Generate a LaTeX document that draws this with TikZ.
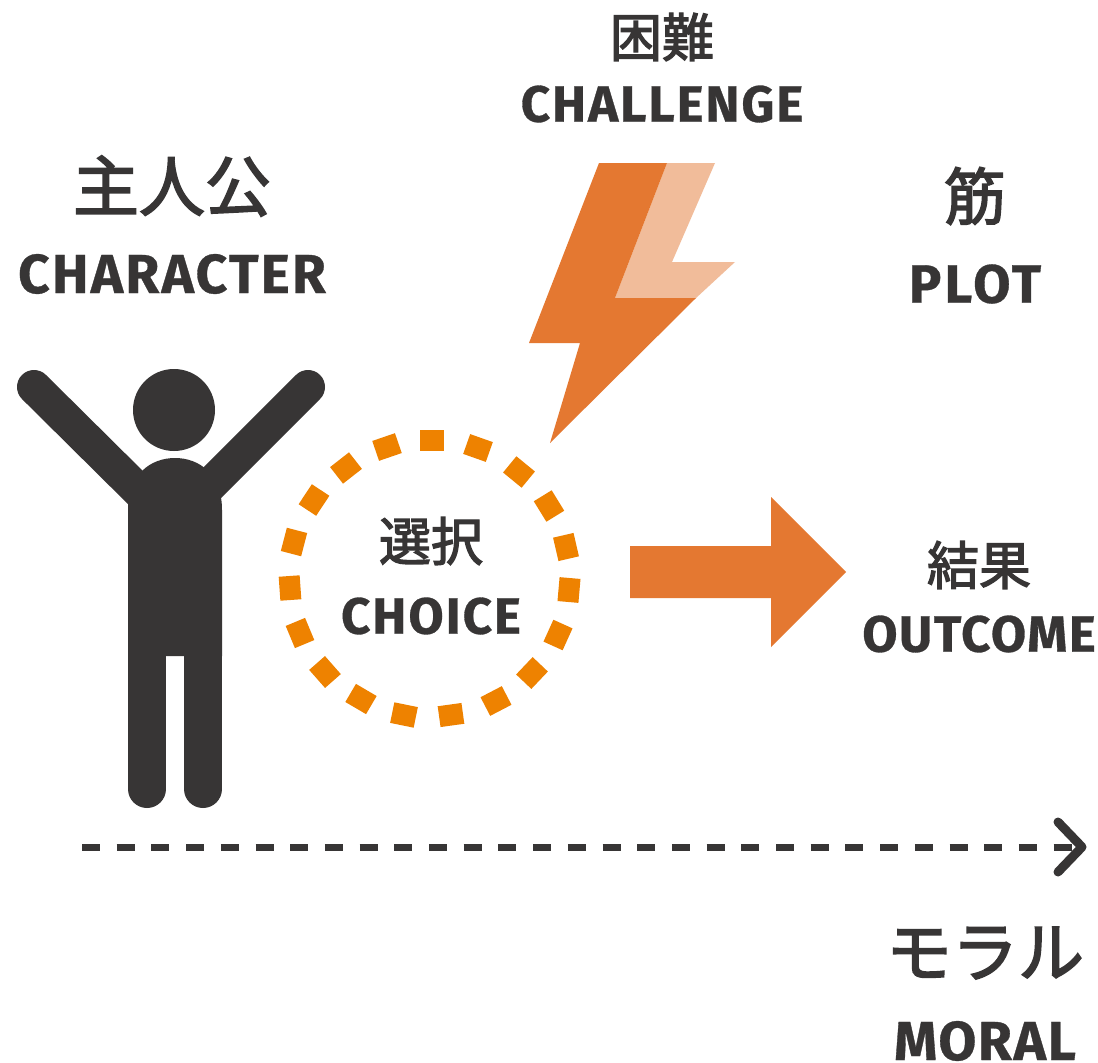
\documentclass[tikz,border=0pt]{standalone}
\usepackage{fontspec}
\setmainfont{Fira Sans}
\newfontfamily\cjk{Noto Sans CJK JP}[FakeBold=2.5]
\usetikzlibrary{arrows.meta}
\definecolor{ink}{HTML}{373535}
\definecolor{bolt}{HTML}{E47831}
\definecolor{boltl}{HTML}{F1BC9A}
\definecolor{ring}{HTML}{EE8200}
\tikzset{
 px/.style={x=1pt,y=-1pt},
 jp/.style={text=ink,font=\cjk\fontsize{#1}{#1}\selectfont,inner sep=0pt,anchor=center},
 en/.style 2 args={text=ink,font=\bfseries\fontsize{#1}{#1}\selectfont\addfontfeature{LetterSpace=#2,FakeBold=0.6},inner sep=0pt,anchor=center},
 limb/.style={draw=ink,line cap=round,line join=round}
}
\begin{document}
\begin{tikzpicture}[px]
\useasboundingbox (0,0) rectangle (1098,1063);
\fill[white] (0,0) rectangle (1098,1063);
\node[jp=52] (t1) at (662,37) {困難};
\node[en={51}{4}] (t2) at (662,104) {CHALLENGE};
\node[jp=66] (t3) at (172,186) {主人公};
\node[en={55}{4}] (t4) at (172,274) {CHARACTER};
\node[jp=62] (t5) at (975,196) {筋};
\node[en={54}{6}] (t6) at (975,284) {PLOT};
\node[jp=52] (t7) at (431,541) {選択};
\node[en={51}{4}] (t8) at (431,616) {CHOICE};
\node[jp=52] (t9) at (979,565) {結果};
\node[en={51}{3}] (t10) at (979,634) {OUTCOME};
\node[jp=66] (t11) at (985,953) {モラル};
\node[en={55}{3}] (t12) at (985,1041) {MORAL};
\fill[boltl] (667,163) -- (715,163) -- (672,262) -- (735,262) -- (696,298) -- (615,298) -- cycle;
\fill[bolt] (599,163) -- (667,163) -- (615,298) -- (696,298) -- (550,443) -- (580,343) -- (529,343) -- cycle;
\fill[bolt] (630,546) -- (771,546) -- (771,497) -- (846,572) -- (771,647) -- (771,598) -- (630,598) -- cycle;
\foreach \dx/\dy in {432/440,478/448,519/472,549/506,566/547,569/590,558/635,532/673,496/701,451/715,404/715,361/699,325/672,300/633,290/588,294/542,314/500,346/468,387/447}{
  \pgfmathsetmacro{\dashang}{atan2(578-\dy,\dx-432)}
  \fill[ring,shift={(\dx,\dy)},rotate=\dashang] (-10.5,-12) rectangle (10.5,12);
}
\fill[ink] (174,410) circle (41);
\draw[limb,line width=34pt] (34,387) -- (145,497);
\draw[limb,line width=34pt] (308,387) -- (204,491);
\fill[ink] (128,510) .. controls (128,475) and (150,458) .. (175,458) .. controls (200,458) and (222,475) .. (222,510) -- (222,656) -- (128,656) -- cycle;
\draw[limb,line width=38pt] (147,640) -- (147,789);
\draw[limb,line width=38pt] (203,640) -- (203,789);
\coordinate (a0) at (82,847);
\coordinate (a1) at (1078,847);
\draw[ink,line width=7pt,dash pattern=on 18pt off 16.7pt] (a0) -- (a1);
\draw[ink,line width=9pt,line cap=round,line join=round] (1058,822) -- (1082,847) -- (1058,872);
\end{tikzpicture}
\end{document}
